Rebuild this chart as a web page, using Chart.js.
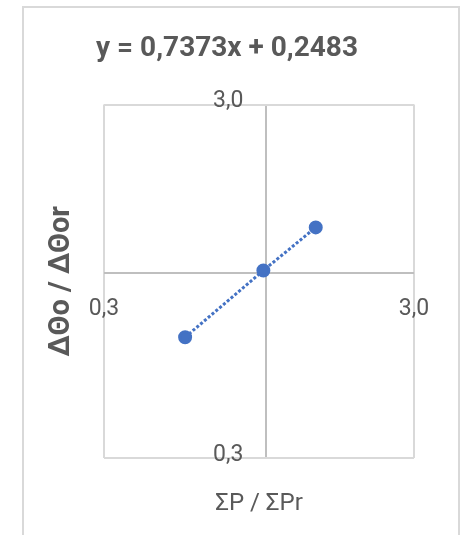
<!DOCTYPE html>
<html>
<head>
<meta charset="utf-8">
<script src="https://cdn.jsdelivr.net/npm/chart.js@4/dist/chart.umd.min.js"></script>
<style>
  body { margin: 0; background: #fff; }
  #frame { position: absolute; left: 22px; top: 6px; width: 434px; height: 600px; border: 2px solid #d9d9d9; }
  #c { position: absolute; left: 0; top: 0; }
</style>
</head>
<body>
<div id="frame"></div>
<canvas id="c" width="467" height="535"></canvas>
<script>
// Données du graphique (échelles log, axes croisés à 1)
const xValues = [0.548, 0.98, 1.446];
const yValues = [0.659, 1.018, 1.348];
const tickValues = [0.3, 1, 3];
const tickLabels = ['0,3', '', '3,0'];
const titleText = 'y = 0,7373x + 0,2483';
const xTitle = 'ΣP / ΣPr';
const yTitle = 'ΔΘo / ΔΘor';

const textColor = '#595959';
const blue = '#4472c4';

const points = xValues.map((x, i) => ({ x: x, y: yValues[i] }));

function setTicks(scale) {
    scale.ticks = tickValues.map(v => ({ value: v }));
}
function tickLabel(value) {
    const i = tickValues.indexOf(value);
    return i >= 0 ? tickLabels[i] : '';
}
function gridColor(ctx) {
    return ctx.tick && ctx.tick.value === 1 ? '#bfbfbf' : '#d9d9d9';
}

new Chart(document.getElementById('c'), {
    type: 'scatter',
    data: {
        datasets: [{
            data: points,
            showLine: true,
            borderColor: blue,
            borderWidth: 3,
            borderDash: [3, 2],
            pointRadius: 5.5,
            pointBackgroundColor: blue,
            pointBorderColor: blue
        }]
    },
    options: {
        responsive: false,
        animation: false,
        layout: { padding: { left: 40, right: 53, top: 0, bottom: 0 } },
        plugins: {
            legend: { display: false },
            tooltip: { enabled: false },
            title: {
                display: true,
                text: titleText,
                color: textColor,
                font: { family: 'Roboto', size: 28, weight: 'bold' },
                padding: { top: 32, bottom: 39 }
            }
        },
        scales: {
            x: {
                type: 'logarithmic',
                position: 'bottom',
                min: 0.3,
                max: 3,
                afterBuildTicks: setTicks,
                afterFit: s => { s.height = 77; s.paddingLeft = 0; s.paddingRight = 0; },
                grid: { color: gridColor, lineWidth: 2, drawTicks: false },
                border: { display: false },
                ticks: {
                    autoSkip: false,
                    maxRotation: 0,
                    mirror: true,
                    padding: 135,
                    color: textColor,
                    font: { family: 'Roboto', size: 23 },
                    callback: tickLabel
                },
                title: {
                    display: true,
                    text: xTitle,
                    color: textColor,
                    font: { family: 'Roboto', size: 24 },
                    padding: { top: 0, bottom: 17 }
                }
            },
            y: {
                type: 'logarithmic',
                position: 'left',
                min: 0.3,
                max: 3,
                afterBuildTicks: setTicks,
                afterFit: s => { s.width = 64; s.paddingTop = 0; s.paddingBottom = 0; },
                grid: { color: gridColor, lineWidth: 2, drawTicks: false },
                border: { display: false },
                ticks: {
                    autoSkip: false,
                    mirror: true,
                    padding: 109,
                    labelOffset: -3,
                    color: textColor,
                    font: { family: 'Roboto', size: 23 },
                    callback: tickLabel
                },
                title: {
                    display: true,
                    text: yTitle,
                    color: textColor,
                    font: { family: 'Roboto', size: 29, weight: 'bold' },
                    padding: { top: 4, bottom: 0 }
                }
            }
        }
    }
});
</script>
</body>
</html>
